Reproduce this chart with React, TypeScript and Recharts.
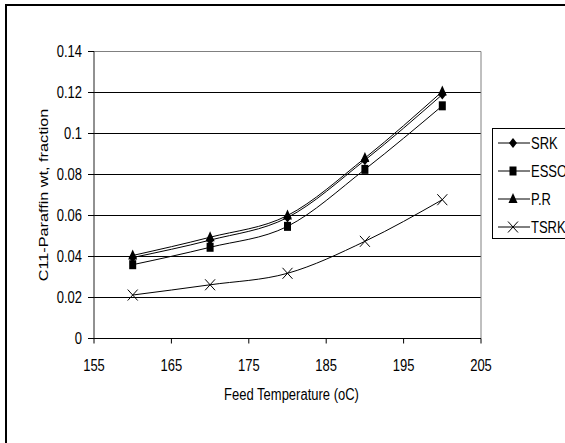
import React from 'react';
import { LineChart, Line, XAxis, YAxis, ReferenceLine, Legend, Label } from 'recharts';

const temps = [160, 170, 180, 190, 200];
const srk = [0.0395, 0.048, 0.059, 0.087, 0.119];
const esso = [0.036, 0.0445, 0.0547, 0.0825, 0.1135];
const pr = [0.0405, 0.0494, 0.06, 0.088, 0.1205];
const tsrk = [0.0212, 0.0262, 0.0318, 0.0474, 0.0677];

const seriesNames = ['SRK', 'ESSO', 'P.R', 'TSRK'];
const xTicks = [155, 165, 175, 185, 195, 205];
const yTicks = [0, 0.02, 0.04, 0.06, 0.08, 0.1, 0.12, 0.14];
const xTitle = 'Feed Temperature (oC)';
const yTitle = 'C11-Paraffin wt, fraction';

const data = temps.map((t, i) => ({ t, SRK: srk[i], ESSO: esso[i], 'P.R': pr[i], TSRK: tsrk[i] }));

const FONT = '"Liberation Sans", Arial, sans-serif';
const FS = 13;
const SY = 1.25;

const SText = ({ x, y, anchor = 'start', children }: { x: number; y: number; anchor?: string; children: any }) => (
  <g transform={`translate(${x} ${y}) scale(1 ${SY})`}>
    <text x={0} y={0} textAnchor={anchor as any} fontFamily={FONT} fontSize={FS} fill="#000">
      {children}
    </text>
  </g>
);

type MP = { cx: number; cy: number };
const Diamond = ({ cx, cy }: MP) => (
  <polygon points={`${cx},${cy - 5} ${cx + 4},${cy} ${cx},${cy + 5} ${cx - 4},${cy}`} fill="#000" stroke="none" />
);
const Square = ({ cx, cy }: MP) => <rect x={cx - 3.5} y={cy - 4.5} width={7} height={9} fill="#000" stroke="none" />;
const Triangle = ({ cx, cy }: MP) => (
  <polygon points={`${cx},${cy - 6} ${cx + 4.5},${cy + 4} ${cx - 4.5},${cy + 4}`} fill="#000" stroke="none" />
);
const Cross = ({ cx, cy }: MP) => (
  <g stroke="#000" strokeWidth={1} fill="none">
    <line x1={cx - 5} y1={cy - 5.5} x2={cx + 5} y2={cy + 5.5} />
    <line x1={cx + 5} y1={cy - 5.5} x2={cx - 5} y2={cy + 5.5} />
  </g>
);
const markers: Record<string, (p: MP) => React.ReactElement> = {
  SRK: Diamond,
  ESSO: Square,
  'P.R': Triangle,
  TSRK: Cross,
};

const makeDot = (name: string) => (props: any) => {
  const M = markers[name];
  if (props.cx == null || props.cy == null) return <g key={`${name}-${props.index}`} />;
  return (
    <g key={`${name}-${props.index}`}>
      <M cx={props.cx} cy={props.cy} />
    </g>
  );
};

const LegendBox = () => (
  <svg width={80} height={112} style={{ display: 'block', overflow: 'hidden' }}>
    <rect x={0.5} y={0.5} width={120} height={110} fill="#fff" stroke="#000" strokeWidth={1} />
    {seriesNames.map((n, i) => {
      const cy = 15 + i * 28;
      const M = markers[n];
      return (
        <g key={n}>
          <line x1={6} y1={cy} x2={38} y2={cy} stroke="#000" strokeWidth={1} />
          <M cx={21} cy={cy} />
          <SText x={39} y={cy + 5.8}>{n}</SText>
        </g>
      );
    })}
  </svg>
);

const XTick = (props: any) => (
  <SText x={props.x} y={props.y + 11.3} anchor="middle">
    {props.payload.value}
  </SText>
);

const YTick = (props: any) => (
  <SText x={props.x} y={props.y + 5.8} anchor="end">
    {props.payload.value}
  </SText>
);

const XTitle = (props: any) => {
  const vb = props.viewBox || {};
  return (
    <SText x={vb.x + vb.width / 2 + 4} y={vb.y + 61.5} anchor="middle">
      {xTitle}
    </SText>
  );
};

const YTitle = (props: any) => {
  const vb = props.viewBox || {};
  const x = vb.x + 13.5;
  const y = vb.y + vb.height / 2;
  return (
    <g transform={`translate(${x} ${y}) scale(1 ${SY}) rotate(-90)`}>
      <text x={0} y={0} textAnchor="middle" fontFamily={FONT} fontSize={FS} fill="#000">
        {yTitle}
      </text>
    </g>
  );
};

export default function App() {
  return (
    <div style={{ position: 'fixed', left: 0, top: 0, width: 565, height: 443, overflow: 'hidden', background: '#fff' }}>
      <div
        style={{
          position: 'absolute',
          left: 5,
          top: 4,
          width: 700,
          height: 600,
          border: '2px solid #000',
          boxSizing: 'border-box',
        }}
      />
      <div style={{ position: 'absolute', left: 0, top: 0 }}>
        <LineChart
          width={565}
          height={443}
          data={data}
          margin={{ top: 51.5, right: 84, bottom: 34.5, left: 34 }}
          style={{ fontFamily: FONT }}
        >
          <XAxis
            dataKey="t"
            type="number"
            domain={[155, 205]}
            ticks={xTicks}
            height={70}
            tickSize={5}
            tickMargin={16}
            axisLine={{ stroke: '#000', strokeWidth: 1 }}
            tickLine={{ stroke: '#000' }}
            tick={<XTick />}
            interval={0}
          >
            <Label content={<XTitle />} />
          </XAxis>
          <YAxis
            type="number"
            domain={[0, 0.14]}
            ticks={yTicks}
            width={60}
            tickSize={6}
            tickMargin={6}
            axisLine={{ stroke: '#222', strokeWidth: 1 }}
            tickLine={{ stroke: '#000' }}
            tick={<YTick />}
            interval={0}
          >
            <Label content={<YTitle />} />
          </YAxis>
          {yTicks.slice(1, -1).map((v) => (
            <ReferenceLine key={v} y={v} stroke="#000" strokeWidth={1} />
          ))}
          <ReferenceLine y={yTicks[yTicks.length - 1]} stroke="#808080" strokeWidth={1} />
          <ReferenceLine x={xTicks[xTicks.length - 1]} stroke="#808080" strokeWidth={1} />
          <Legend
            layout="vertical"
            align="center"
            verticalAlign="middle"
            content={<LegendBox />}
            wrapperStyle={{ left: 492, top: 128, right: 'auto', bottom: 'auto', width: 80, height: 112 }}
          />
          {seriesNames.map((n) => (
            <Line
              key={n}
              dataKey={n}
              name={n}
              type="monotone"
              stroke="#000"
              strokeWidth={1}
              dot={makeDot(n)}
              activeDot={false}
              isAnimationActive={false}
            />
          ))}
        </LineChart>
      </div>
    </div>
  );
}
